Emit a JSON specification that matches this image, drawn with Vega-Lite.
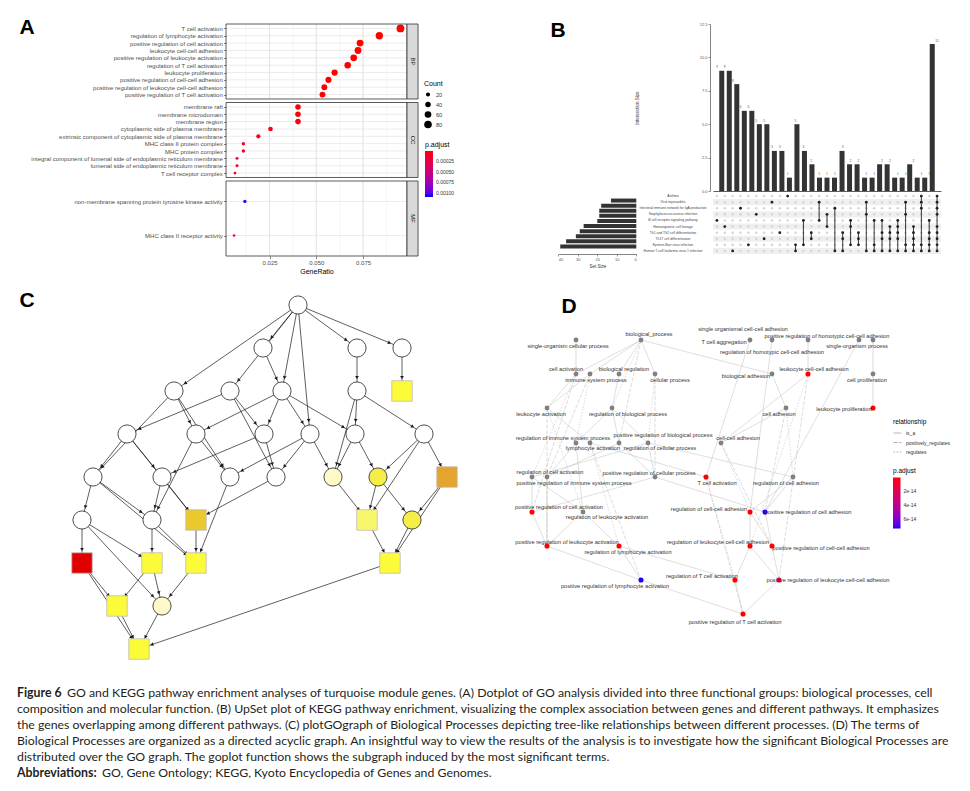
{
"$schema":"https://vega.github.io/schema/vega-lite/v6.json",
"width":970,"height":791,"padding":0,"autosize":{"type":"none"},"background":"#ffffff",
"config":{"view":{"stroke":null},"font":"Liberation Sans","legend":{"titleFontWeight":"normal","titleColor":"#000000","labelColor":"#333333","titleFont":"Liberation Sans","labelFont":"Liberation Sans"}},
"datasets":{
"goA":[
{"ont":"BP","term":"T cell activation","ratio":0.095,"count":83,"p":0.000001},
{"ont":"BP","term":"regulation of lymphocyte activation","ratio":0.0837,"count":73,"p":0.000001},
{"ont":"BP","term":"positive regulation of cell activation","ratio":0.0734,"count":64,"p":0.000001},
{"ont":"BP","term":"leukocyte cell-cell adhesion","ratio":0.0723,"count":63,"p":0.000001},
{"ont":"BP","term":"positive regulation of leukocyte activation","ratio":0.07,"count":61,"p":0.000001},
{"ont":"BP","term":"regulation of T cell activation","ratio":0.0668,"count":58,"p":0.000001},
{"ont":"BP","term":"leukocyte proliferation","ratio":0.0598,"count":52,"p":0.000001},
{"ont":"BP","term":"positive regulation of cell-cell adhesion","ratio":0.0565,"count":49,"p":0.000001},
{"ont":"BP","term":"positive regulation of leukocyte cell-cell adhesion","ratio":0.0543,"count":47,"p":0.000001},
{"ont":"BP","term":"positive regulation of T cell activation","ratio":0.0533,"count":46,"p":0.000001},
{"ont":"CC","term":"membrane raft","ratio":0.0402,"count":40,"p":0.00002},
{"ont":"CC","term":"membrane microdomain","ratio":0.0402,"count":40,"p":0.00002},
{"ont":"CC","term":"membrane region","ratio":0.0402,"count":40,"p":0.00002},
{"ont":"CC","term":"cytoplasmic side of plasma membrane","ratio":0.0255,"count":27,"p":0.00005},
{"ont":"CC","term":"extrinsic component of cytoplasmic side of plasma membrane","ratio":0.019,"count":21,"p":0.00006},
{"ont":"CC","term":"MHC class II protein complex","ratio":0.011,"count":12,"p":0.00004},
{"ont":"CC","term":"MHC protein complex","ratio":0.011,"count":12,"p":0.00008},
{"ont":"CC","term":"integral component of lumenal side of endoplasmic reticulum membrane","ratio":0.0076,"count":8,"p":0.00012},
{"ont":"CC","term":"lumenal side of endoplasmic reticulum membrane","ratio":0.0076,"count":8,"p":0.00012},
{"ont":"CC","term":"T cell receptor complex","ratio":0.0065,"count":7,"p":0.00015},
{"ont":"MF","term":"non-membrane spanning protein tyrosine kinase activity","ratio":0.0118,"count":11,"p":0.00107},
{"ont":"MF","term":"MHC class II receptor activity","ratio":0.006,"count":5,"p":0.00018}
],
"facetsA":[
{"f":"BP","maj":[0.025,0.05,0.075],"mn":[0.0125,0.0375,0.0625,0.0875]},
{"f":"CC","maj":[0.025,0.05,0.075],"mn":[0.0125,0.0375,0.0625,0.0875]},
{"f":"MF","maj":[0.025,0.05,0.075],"mn":[0.0125,0.0375,0.0625,0.0875]}
],
"upCols":[
{"c":1,"n":9,"m":[0,0,0,0,1,0,0,0,0,0]},
{"c":2,"n":9,"m":[0,0,0,0,0,1,0,0,0,0]},
{"c":3,"n":8,"m":[0,0,0,0,0,0,0,0,0,1]},
{"c":4,"n":6,"m":[0,0,1,0,0,0,0,0,0,0]},
{"c":5,"n":6,"m":[0,0,0,0,0,0,0,0,1,0]},
{"c":6,"n":5,"m":[0,0,0,1,0,0,0,0,0,0]},
{"c":7,"n":5,"m":[0,0,0,0,0,0,0,1,0,0]},
{"c":8,"n":3,"m":[0,1,0,0,0,0,0,0,0,0]},
{"c":9,"n":3,"m":[0,0,0,0,0,0,1,0,0,0]},
{"c":10,"n":1,"m":[1,0,0,0,0,0,0,0,0,0]},
{"c":11,"n":5,"m":[0,0,0,0,0,0,0,0,1,1]},
{"c":12,"n":3,"m":[0,0,0,0,1,0,0,0,1,0]},
{"c":13,"n":2,"m":[0,0,0,0,0,0,1,1,0,0]},
{"c":14,"n":1,"m":[0,1,0,0,1,0,0,0,0,0]},
{"c":15,"n":1,"m":[0,0,0,1,0,1,0,0,0,0]},
{"c":16,"n":1,"m":[0,0,1,0,0,0,0,0,0,1]},
{"c":17,"n":3,"m":[0,0,0,0,0,0,1,1,0,1]},
{"c":18,"n":2,"m":[0,0,0,0,1,1,0,0,1,0]},
{"c":19,"n":2,"m":[0,0,0,0,0,0,1,1,1,0]},
{"c":20,"n":1,"m":[0,1,0,1,0,0,0,0,0,1]},
{"c":21,"n":1,"m":[0,0,0,0,1,0,0,0,1,1]},
{"c":22,"n":2,"m":[0,0,0,0,1,0,1,1,0,1]},
{"c":23,"n":2,"m":[0,0,0,0,0,1,1,1,0,1]},
{"c":24,"n":1,"m":[0,0,0,0,1,1,1,1,0,1]},
{"c":25,"n":1,"m":[0,1,0,1,0,0,0,0,1,1]},
{"c":26,"n":2,"m":[0,0,0,0,0,1,1,1,1,1]},
{"c":27,"n":1,"m":[1,1,1,0,0,0,0,0,1,1]},
{"c":28,"n":1,"m":[0,0,0,0,1,0,1,1,1,1]},
{"c":29,"n":11,"m":[1,1,1,1,0,1,1,1,1,1]}
],
"upSets":[
{"idx":1,"name":"Asthma","size":13},
{"idx":2,"name":"Viral myocarditis","size":18},
{"idx":3,"name":"Intestinal immune network for IgA production","size":19},
{"idx":4,"name":"Staphylococcus aureus infection","size":19},
{"idx":5,"name":"B cell receptor signaling pathway","size":20},
{"idx":6,"name":"Hematopoietic cell lineage","size":27},
{"idx":7,"name":"Th1 and Th2 cell differentiation","size":29},
{"idx":8,"name":"Th17 cell differentiation","size":31},
{"idx":9,"name":"Epstein-Barr virus infection","size":36},
{"idx":10,"name":"Human T-cell leukemia virus 1 infection","size":39}
],
"nodesC":[
{"id":0,"x":23.8,"lv":0,"shape":"circle","cat":"w"},
{"id":1,"x":20.3,"lv":1,"shape":"circle","cat":"w"},
{"id":2,"x":29.7,"lv":1,"shape":"circle","cat":"w"},
{"id":3,"x":34.2,"lv":1,"shape":"circle","cat":"w"},
{"id":4,"x":11.4,"lv":2,"shape":"circle","cat":"w"},
{"id":5,"x":17.0,"lv":2,"shape":"circle","cat":"w"},
{"id":6,"x":22.2,"lv":2,"shape":"circle","cat":"w"},
{"id":7,"x":29.7,"lv":2,"shape":"circle","cat":"w"},
{"id":8,"x":34.2,"lv":2,"shape":"square","cat":"y"},
{"id":9,"x":6.7,"lv":3,"shape":"circle","cat":"w"},
{"id":10,"x":13.6,"lv":3,"shape":"circle","cat":"w"},
{"id":11,"x":20.4,"lv":3,"shape":"circle","cat":"w"},
{"id":12,"x":25.0,"lv":3,"shape":"circle","cat":"w"},
{"id":13,"x":29.5,"lv":3,"shape":"circle","cat":"w"},
{"id":14,"x":36.4,"lv":3,"shape":"circle","cat":"w"},
{"id":15,"x":3.3,"lv":4,"shape":"circle","cat":"w"},
{"id":16,"x":10.2,"lv":4,"shape":"circle","cat":"w"},
{"id":17,"x":17.0,"lv":4,"shape":"circle","cat":"w"},
{"id":18,"x":21.6,"lv":4,"shape":"circle","cat":"w"},
{"id":19,"x":27.3,"lv":4,"shape":"circle","cat":"p"},
{"id":20,"x":31.8,"lv":4,"shape":"circle","cat":"yc"},
{"id":21,"x":38.7,"lv":4,"shape":"square","cat":"o"},
{"id":22,"x":2.2,"lv":5,"shape":"circle","cat":"w"},
{"id":23,"x":9.2,"lv":5,"shape":"circle","cat":"w"},
{"id":24,"x":13.6,"lv":5,"shape":"square","cat":"g"},
{"id":25,"x":30.7,"lv":5,"shape":"square","cat":"ly"},
{"id":26,"x":35.2,"lv":5,"shape":"circle","cat":"yc"},
{"id":27,"x":2.2,"lv":6,"shape":"square","cat":"r"},
{"id":28,"x":9.2,"lv":6,"shape":"square","cat":"y"},
{"id":29,"x":13.6,"lv":6,"shape":"square","cat":"y"},
{"id":30,"x":33.0,"lv":6,"shape":"square","cat":"y"},
{"id":31,"x":5.7,"lv":7,"shape":"square","cat":"y"},
{"id":32,"x":10.2,"lv":7,"shape":"circle","cat":"p"},
{"id":33,"x":7.9,"lv":8,"shape":"square","cat":"y"}
],
"edgesC":[
{"s":0,"t":4},{"s":0,"t":5},{"s":0,"t":1},{"s":0,"t":6},{"s":0,"t":12},{"s":0,"t":2},{"s":0,"t":3},
{"s":1,"t":6},{"s":2,"t":7},{"s":3,"t":8},
{"s":4,"t":15},{"s":4,"t":10},{"s":4,"t":17},
{"s":5,"t":9},{"s":5,"t":11},{"s":5,"t":18},
{"s":6,"t":10},{"s":6,"t":11},{"s":6,"t":12},{"s":6,"t":13},
{"s":7,"t":13},{"s":7,"t":14},{"s":7,"t":19},
{"s":9,"t":15},{"s":9,"t":16},{"s":9,"t":24},
{"s":10,"t":23},{"s":10,"t":17},
{"s":11,"t":16},{"s":11,"t":18},
{"s":12,"t":17},{"s":12,"t":18},{"s":12,"t":19},
{"s":13,"t":19},{"s":13,"t":20},
{"s":14,"t":20},{"s":14,"t":21},{"s":14,"t":25},
{"s":15,"t":22},{"s":15,"t":23},{"s":15,"t":29},
{"s":16,"t":23},{"s":16,"t":24},
{"s":17,"t":29},{"s":18,"t":24},{"s":19,"t":25},
{"s":20,"t":25},{"s":20,"t":26},
{"s":21,"t":26},{"s":21,"t":30},
{"s":22,"t":27},{"s":22,"t":28},{"s":22,"t":32},
{"s":23,"t":28},{"s":23,"t":29},{"s":24,"t":29},
{"s":25,"t":30},{"s":26,"t":30},
{"s":27,"t":31},{"s":27,"t":33},
{"s":28,"t":31},{"s":28,"t":32},{"s":29,"t":32},
{"s":31,"t":33},{"s":32,"t":33},{"s":30,"t":33}
],
"nodesD":[
{"id":1,"term":"biological_process","x":12.1,"y":1.0,"lx":12.9,"ly":0.4,"p":null},
{"id":2,"term":"single-organism cellular process","x":5.6,"y":1.0,"lx":4.8,"ly":1.6,"p":null},
{"id":3,"term":"T cell aggregation","x":23.0,"y":1.0,"lx":20.4,"ly":1.2,"p":null},
{"id":4,"term":"single organismal cell-cell adhesion","x":25.2,"y":1.0,"lx":22.3,"ly":-0.1,"p":null},
{"id":5,"term":"positive regulation of homotypic cell-cell adhesion","x":28.8,"y":1.0,"lx":30.7,"ly":0.6,"p":null},
{"id":6,"term":"regulation of homotypic cell-cell adhesion","x":33.9,"y":1.0,"lx":25.2,"ly":2.2,"p":null},
{"id":7,"term":"single-organism process","x":35.3,"y":1.0,"lx":33.7,"ly":1.6,"p":null},
{"id":8,"term":"cell activation","x":5.6,"y":4.4,"lx":4.6,"ly":3.9,"p":null},
{"id":9,"term":"immune system process","x":7.0,"y":4.4,"lx":7.6,"ly":5.0,"p":null},
{"id":10,"term":"biological regulation","x":9.9,"y":4.4,"lx":10.4,"ly":3.9,"p":null},
{"id":11,"term":"cellular process","x":13.5,"y":4.4,"lx":15.0,"ly":5.0,"p":null},
{"id":12,"term":"biological adhesion","x":25.2,"y":4.4,"lx":22.6,"ly":4.6,"p":null},
{"id":13,"term":"leukocyte cell-cell adhesion","x":28.8,"y":4.4,"lx":29.4,"ly":3.9,"p":1e-16},
{"id":14,"term":"cell proliferation","x":35.3,"y":4.4,"lx":34.7,"ly":5.0,"p":null},
{"id":15,"term":"leukocyte activation","x":2.7,"y":7.8,"lx":2.1,"ly":8.4,"p":null},
{"id":16,"term":"regulation of biological process","x":9.2,"y":7.8,"lx":10.8,"ly":8.4,"p":null},
{"id":17,"term":"cell adhesion","x":26.6,"y":7.8,"lx":25.9,"ly":8.4,"p":null},
{"id":18,"term":"leukocyte proliferation","x":35.3,"y":7.8,"lx":32.4,"ly":7.9,"p":1e-16},
{"id":19,"term":"regulation of immune system process","x":5.6,"y":11.3,"lx":4.3,"ly":10.8,"p":null},
{"id":20,"term":"lymphocyte activation","x":7.0,"y":11.3,"lx":7.3,"ly":11.8,"p":null},
{"id":21,"term":"positive regulation of biological process","x":9.9,"y":11.3,"lx":14.3,"ly":10.5,"p":null},
{"id":22,"term":"regulation of cellular process","x":12.8,"y":11.3,"lx":14.0,"ly":11.8,"p":null},
{"id":23,"term":"cell-cell adhesion","x":20.1,"y":11.3,"lx":21.8,"ly":10.8,"p":null},
{"id":24,"term":"regulation of cell activation","x":1.2,"y":14.7,"lx":3.0,"ly":14.2,"p":null},
{"id":25,"term":"positive regulation of immune system process","x":2.7,"y":14.7,"lx":5.4,"ly":15.3,"p":null},
{"id":26,"term":"positive regulation of cellular process","x":13.5,"y":14.7,"lx":12.9,"ly":14.3,"p":null},
{"id":27,"term":"T cell activation","x":18.6,"y":14.7,"lx":19.7,"ly":15.3,"p":1e-16},
{"id":28,"term":"regulation of cell adhesion","x":27.3,"y":14.7,"lx":26.6,"ly":15.3,"p":null},
{"id":29,"term":"positive regulation of cell activation","x":1.2,"y":18.2,"lx":3.9,"ly":17.7,"p":1e-16},
{"id":30,"term":"regulation of leukocyte activation","x":6.3,"y":18.2,"lx":8.7,"ly":18.7,"p":null},
{"id":31,"term":"regulation of cell-cell adhesion","x":23.0,"y":18.2,"lx":18.9,"ly":17.9,"p":1e-16},
{"id":32,"term":"positive regulation of cell adhesion","x":24.5,"y":18.2,"lx":28.8,"ly":18.2,"p":7.2e-14},
{"id":33,"term":"positive regulation of leukocyte activation","x":2.7,"y":21.6,"lx":4.7,"ly":21.2,"p":1e-16},
{"id":34,"term":"regulation of lymphocyte activation","x":9.9,"y":21.6,"lx":10.8,"ly":22.2,"p":1e-16},
{"id":35,"term":"regulation of leukocyte cell-cell adhesion","x":23.0,"y":21.6,"lx":19.8,"ly":21.2,"p":1e-16},
{"id":36,"term":"positive regulation of cell-cell adhesion","x":25.2,"y":21.6,"lx":30.1,"ly":21.8,"p":1e-16},
{"id":37,"term":"positive regulation of lymphocyte activation","x":12.1,"y":25.0,"lx":9.5,"ly":25.6,"p":7.2e-14},
{"id":38,"term":"regulation of T cell activation","x":21.5,"y":25.0,"lx":18.2,"ly":24.6,"p":1e-16},
{"id":39,"term":"positive regulation of leukocyte cell-cell adhesion","x":25.9,"y":25.0,"lx":30.8,"ly":25.0,"p":1.2e-14},
{"id":40,"term":"positive regulation of T cell activation","x":22.3,"y":28.4,"lx":21.5,"ly":29.2,"p":1e-16}
],
"edgesD":[
{"s":2,"t":8,"rel":"is_a"},{"s":1,"t":8,"rel":"is_a"},{"s":1,"t":9,"rel":"is_a"},{"s":1,"t":10,"rel":"is_a"},{"s":1,"t":11,"rel":"is_a"},{"s":1,"t":12,"rel":"is_a"},
{"s":3,"t":27,"rel":"is_a"},{"s":4,"t":31,"rel":"is_a"},{"s":5,"t":13,"rel":"is_a"},{"s":6,"t":32,"rel":"is_a"},{"s":7,"t":14,"rel":"is_a"},{"s":14,"t":18,"rel":"is_a"},
{"s":12,"t":17,"rel":"is_a"},{"s":17,"t":23,"rel":"is_a"},{"s":17,"t":28,"rel":"regulates"},{"s":17,"t":32,"rel":"positively_regulates"},
{"s":23,"t":13,"rel":"is_a"},{"s":23,"t":31,"rel":"regulates"},{"s":23,"t":36,"rel":"positively_regulates"},
{"s":13,"t":35,"rel":"regulates"},{"s":13,"t":39,"rel":"positively_regulates"},
{"s":8,"t":15,"rel":"is_a"},{"s":8,"t":24,"rel":"regulates"},{"s":8,"t":29,"rel":"positively_regulates"},
{"s":9,"t":15,"rel":"is_a"},{"s":9,"t":19,"rel":"regulates"},{"s":9,"t":25,"rel":"positively_regulates"},
{"s":10,"t":16,"rel":"is_a"},{"s":1,"t":16,"rel":"regulates"},{"s":1,"t":21,"rel":"positively_regulates"},
{"s":11,"t":22,"rel":"regulates"},{"s":11,"t":26,"rel":"positively_regulates"},
{"s":16,"t":19,"rel":"is_a"},{"s":16,"t":21,"rel":"is_a"},{"s":16,"t":22,"rel":"is_a"},
{"s":15,"t":20,"rel":"is_a"},{"s":15,"t":30,"rel":"regulates"},{"s":15,"t":33,"rel":"positively_regulates"},
{"s":19,"t":25,"rel":"is_a"},{"s":19,"t":30,"rel":"is_a"},
{"s":21,"t":25,"rel":"is_a"},{"s":21,"t":26,"rel":"is_a"},
{"s":22,"t":24,"rel":"is_a"},{"s":22,"t":26,"rel":"is_a"},{"s":22,"t":28,"rel":"is_a"},
{"s":20,"t":27,"rel":"is_a"},{"s":20,"t":34,"rel":"regulates"},{"s":20,"t":37,"rel":"positively_regulates"},
{"s":24,"t":29,"rel":"is_a"},{"s":24,"t":30,"rel":"is_a"},
{"s":25,"t":33,"rel":"is_a"},
{"s":26,"t":29,"rel":"is_a"},{"s":26,"t":32,"rel":"is_a"},
{"s":27,"t":38,"rel":"regulates"},{"s":27,"t":40,"rel":"positively_regulates"},
{"s":28,"t":31,"rel":"is_a"},{"s":28,"t":32,"rel":"is_a"},
{"s":29,"t":33,"rel":"is_a"},
{"s":30,"t":33,"rel":"is_a"},{"s":30,"t":34,"rel":"is_a"},
{"s":31,"t":35,"rel":"is_a"},{"s":31,"t":36,"rel":"is_a"},
{"s":32,"t":36,"rel":"is_a"},
{"s":33,"t":37,"rel":"is_a"},
{"s":34,"t":37,"rel":"is_a"},{"s":34,"t":38,"rel":"is_a"},
{"s":35,"t":38,"rel":"is_a"},{"s":35,"t":39,"rel":"is_a"},
{"s":36,"t":39,"rel":"is_a"},
{"s":37,"t":40,"rel":"is_a"},{"s":38,"t":40,"rel":"is_a"},{"s":39,"t":40,"rel":"is_a"}
]
},
"resolve":{"scale":{"x":"independent","y":"independent","color":"independent","fill":"independent","size":"independent","strokeDash":"independent","angle":"independent"},"axis":{"x":"independent","y":"independent"},"legend":{"color":"independent","size":"independent","strokeDash":"independent","fill":"independent"}},
"layer":[
{"data":{"name":"facetsA"},"transform":[{"flatten":["mn"]}],
 "mark":{"type":"rect","filled":false,"color":"#f2f2f2","strokeWidth":0.5},
 "encoding":{
  "x":{"field":"mn","type":"quantitative","scale":{"domain":[0.0017,0.0985],"range":[226,407],"nice":false,"zero":false},
   "axis":{"orient":"bottom","offset":-535,"values":[0.025,0.05,0.075],"format":".3f","grid":false,"domain":false,"ticks":true,"tickSize":2.5,"tickColor":"#333333","tickWidth":0.6,"labelFontSize":6,"labelColor":"#4d4d4d","labelPadding":1,"title":"GeneRatio","titleFontSize":7,"titleFontWeight":"normal","titleColor":"#000000","titlePadding":2}},
  "x2":{"field":"mn"},
  "y":{"field":"f","type":"nominal","scale":{"type":"band","domain":["BP","CC","MF"],"range":[24,256],"paddingInner":0.0446,"paddingOuter":0},"axis":null}}},
{"data":{"name":"facetsA"},"transform":[{"flatten":["maj"]}],
 "mark":{"type":"rect","filled":false,"color":"#e6e6e6","strokeWidth":0.8},
 "encoding":{
  "x":{"field":"maj","type":"quantitative","scale":{"domain":[0.0017,0.0985],"range":[226,407],"nice":false,"zero":false},"axis":null},
  "x2":{"field":"maj"},
  "y":{"field":"f","type":"nominal","scale":{"type":"band","domain":["BP","CC","MF"],"range":[24,256],"paddingInner":0.0446,"paddingOuter":0},"axis":null}}},
{"data":{"name":"goA"},"transform":[{"filter":"datum.ont=='BP'"}],
 "mark":{"type":"rule","color":"#e6e6e6","strokeWidth":0.8},
 "encoding":{
  "y":{"field":"term","type":"nominal","sort":null,"scale":{"type":"point","range":[24,99],"padding":0.6},"axis":null},
  "x":{"datum":0.0017,"type":"quantitative","scale":{"domain":[0.0017,0.0985],"range":[226,407],"nice":false,"zero":false},"axis":null},
  "x2":{"datum":0.0985}}},
{"data":{"name":"goA"},"transform":[{"filter":"datum.ont=='CC'"}],
 "mark":{"type":"rule","color":"#e6e6e6","strokeWidth":0.8},
 "encoding":{
  "y":{"field":"term","type":"nominal","sort":null,"scale":{"type":"point","range":[102.5,177.5],"padding":0.6},"axis":null},
  "x":{"datum":0.0017,"type":"quantitative","scale":{"domain":[0.0017,0.0985],"range":[226,407],"nice":false,"zero":false},"axis":null},
  "x2":{"datum":0.0985}}},
{"data":{"name":"goA"},"transform":[{"filter":"datum.ont=='MF'"}],
 "mark":{"type":"rule","color":"#e6e6e6","strokeWidth":0.8},
 "encoding":{
  "y":{"field":"term","type":"nominal","sort":null,"scale":{"type":"point","range":[181,256],"padding":0.6},"axis":null},
  "x":{"datum":0.0017,"type":"quantitative","scale":{"domain":[0.0017,0.0985],"range":[226,407],"nice":false,"zero":false},"axis":null},
  "x2":{"datum":0.0985}}},
{"data":{"name":"goA"},"transform":[{"filter":"datum.ont=='BP'"},{"calculate":"-datum.p","as":"np"}],
 "mark":{"type":"point","filled":true,"opacity":1,"shape":"circle"},
 "encoding":{
  "x":{"field":"ratio","type":"quantitative","scale":{"domain":[0.0017,0.0985],"range":[226,407],"nice":false,"zero":false},"axis":null},
  "y":{"field":"term","type":"nominal","sort":null,"scale":{"type":"point","range":[24,99],"padding":0.6},
   "axis":{"orient":"left","offset":-226,"title":null,"domain":false,"grid":false,"ticks":true,"tickSize":2.5,"tickColor":"#333333","tickWidth":0.6,"labelFontSize":6,"labelColor":"#4d4d4d","labelPadding":1.2,"labelLimit":400}},
  "size":{"field":"count","type":"quantitative","scale":{"domain":[20,80],"range":[17,58],"zero":false},
   "legend":{"title":"Count","orient":"none","legendX":424,"legendY":80,"values":[20,40,60,80],"symbolFillColor":"#000000","symbolStrokeColor":"#000000","symbolStrokeWidth":0,"symbolType":"circle","titleFontSize":7,"labelFontSize":5.5,"clipHeight":9,"rowPadding":1,"titlePadding":3}},
  "color":{"field":"np","type":"quantitative","scale":{"domain":[-0.0011,0],"range":["#0000ff","#ff0000"],"interpolate":"lab"},
   "legend":{"title":"p.adjust","orient":"none","legendX":425,"legendY":141,"gradientLength":46,"gradientThickness":8,"values":[-0.00025,-0.0005,-0.00075,-0.001],"labelExpr":"format(-datum.value, '.5f')","titleFontSize":7,"labelFontSize":5,"direction":"vertical","gradientStrokeWidth":0,"labelOffset":3,"titlePadding":3}}}},
{"data":{"name":"goA"},"transform":[{"filter":"datum.ont=='CC'"},{"calculate":"-datum.p","as":"np"}],
 "mark":{"type":"point","filled":true,"opacity":1,"shape":"circle"},
 "encoding":{
  "x":{"field":"ratio","type":"quantitative","scale":{"domain":[0.0017,0.0985],"range":[226,407],"nice":false,"zero":false},"axis":null},
  "y":{"field":"term","type":"nominal","sort":null,"scale":{"type":"point","range":[102.5,177.5],"padding":0.6},
   "axis":{"orient":"left","offset":-226,"title":null,"domain":false,"grid":false,"ticks":true,"tickSize":2.5,"tickColor":"#333333","tickWidth":0.6,"labelFontSize":6,"labelColor":"#4d4d4d","labelPadding":1.2,"labelLimit":400}},
  "size":{"field":"count","type":"quantitative","scale":{"domain":[20,80],"range":[17,58],"zero":false},"legend":null},
  "color":{"field":"np","type":"quantitative","scale":{"domain":[-0.0011,0],"range":["#0000ff","#ff0000"],"interpolate":"lab"},"legend":null}}},
{"data":{"name":"goA"},"transform":[{"filter":"datum.ont=='MF'"},{"calculate":"-datum.p","as":"np"}],
 "mark":{"type":"point","filled":true,"opacity":1,"shape":"circle"},
 "encoding":{
  "x":{"field":"ratio","type":"quantitative","scale":{"domain":[0.0017,0.0985],"range":[226,407],"nice":false,"zero":false},"axis":null},
  "y":{"field":"term","type":"nominal","sort":null,"scale":{"type":"point","range":[181,256],"padding":0.6},
   "axis":{"orient":"left","offset":-226,"title":null,"domain":false,"grid":false,"ticks":true,"tickSize":2.5,"tickColor":"#333333","tickWidth":0.6,"labelFontSize":6,"labelColor":"#4d4d4d","labelPadding":1.2,"labelLimit":400}},
  "size":{"field":"count","type":"quantitative","scale":{"domain":[20,80],"range":[17,58],"zero":false},"legend":null},
  "color":{"field":"np","type":"quantitative","scale":{"domain":[-0.0011,0],"range":["#0000ff","#ff0000"],"interpolate":"lab"},"legend":null}}},
{"data":{"name":"facetsA"},
 "mark":{"type":"rect","filled":false,"color":"#333333","strokeWidth":0.8},
 "encoding":{
  "x":{"datum":0.0017,"type":"quantitative","scale":{"domain":[0.0017,0.0985],"range":[226,407],"nice":false,"zero":false},"axis":null},
  "x2":{"datum":0.0985},
  "y":{"field":"f","type":"nominal","scale":{"type":"band","domain":["BP","CC","MF"],"range":[24,256],"paddingInner":0.0446,"paddingOuter":0},"axis":null}}},
{"data":{"name":"facetsA"},
 "mark":{"type":"rect","fill":"#d9d9d9","stroke":"#333333","strokeWidth":0.8},
 "encoding":{
  "x":{"datum":0.0985,"type":"quantitative","scale":{"domain":[0.0017,0.0985],"range":[226,407],"nice":false,"zero":false},"axis":null},
  "x2":{"datum":0.1044},
  "y":{"field":"f","type":"nominal","scale":{"type":"band","domain":["BP","CC","MF"],"range":[24,256],"paddingInner":0.0446,"paddingOuter":0},"axis":null}}},
{"data":{"name":"facetsA"},
 "mark":{"type":"text","angle":90,"fontSize":6,"color":"#1a1a1a","align":"center","baseline":"middle"},
 "encoding":{
  "x":{"datum":0.10145,"type":"quantitative","scale":{"domain":[0.0017,0.0985],"range":[226,407],"nice":false,"zero":false},"axis":null},
  "y":{"field":"f","type":"nominal","scale":{"type":"band","domain":["BP","CC","MF"],"range":[24,256],"paddingInner":0.0446,"paddingOuter":0},"axis":null},
  "text":{"field":"f"}}},
{"data":{"values":[{"t":"A"}]},
 "mark":{"type":"text","fontSize":21,"fontWeight":"bold","color":"#000000","align":"center","baseline":"alphabetic","dy":-27.5},
 "encoding":{
  "x":{"datum":-0.1047,"type":"quantitative","scale":{"domain":[0.0017,0.0985],"range":[226,407],"nice":false,"zero":false},"axis":null},
  "y":{"datum":"BP","type":"nominal","scale":{"type":"band","domain":["BP","CC","MF"],"range":[24,256],"paddingInner":0.0446,"paddingOuter":0},"axis":null},
  "text":{"field":"t"}}},

{"data":{"name":"upCols"},
 "mark":{"type":"bar","width":5,"color":"#333333","orient":"vertical"},
 "encoding":{
  "x":{"field":"c","type":"quantitative","scale":{"domain":[0.5,29.5],"range":[713,941],"nice":false,"zero":false},
   "axis":{"orient":"bottom","offset":-600,"labels":false,"ticks":false,"grid":false,"domain":true,"domainColor":"#333333","domainWidth":0.8,"title":null}},
  "y":{"field":"n","type":"quantitative","scale":{"domain":[0,12.5],"range":[191,24],"nice":false,"zero":true},
   "axis":{"orient":"left","offset":-710,"values":[0,2.5,5,7.5,10,12.5],"format":".1f","grid":false,"tickSize":2,"tickColor":"#333333","tickWidth":0.5,"domainColor":"#333333","domainWidth":0.6,"labelFontSize":4,"labelColor":"#555555","labelPadding":1,"title":"Intersection Size","titleFontSize":4.5,"titleFontWeight":"normal","titleColor":"#333333","titlePadding":60}}}},
{"data":{"name":"upCols"},
 "mark":{"type":"text","fontSize":3.5,"color":"#666666","baseline":"bottom","dy":-1.5},
 "encoding":{
  "x":{"field":"c","type":"quantitative","scale":{"domain":[0.5,29.5],"range":[713,941],"nice":false,"zero":false},"axis":null},
  "y":{"field":"n","type":"quantitative","scale":{"domain":[0,12.5],"range":[191,24],"nice":false,"zero":true},"axis":null},
  "text":{"field":"n"}}},
{"data":{"values":[{"t":"B"}]},
 "mark":{"type":"text","fontSize":21,"fontWeight":"bold","color":"#000000","align":"center","baseline":"alphabetic"},
 "encoding":{
  "x":{"datum":-19.21,"type":"quantitative","scale":{"domain":[0.5,29.5],"range":[713,941],"nice":false,"zero":false},"axis":null},
  "y":{"datum":11.53,"type":"quantitative","scale":{"domain":[0,12.5],"range":[191,24],"nice":false,"zero":true},"axis":null},
  "text":{"field":"t"}}},
{"data":{"name":"upSets"},"transform":[{"filter":"datum.idx % 2 == 0"},{"calculate":"datum.idx - 0.5","as":"y0"},{"calculate":"datum.idx + 0.5","as":"y1"}],
 "mark":{"type":"rect","color":"#efefef"},
 "encoding":{
  "x":{"datum":0.5,"type":"quantitative","scale":{"domain":[0.5,29.5],"range":[713,941],"nice":false,"zero":false},"axis":null},
  "x2":{"datum":29.5},
  "y":{"field":"y0","type":"quantitative","scale":{"domain":[0.5,10.5],"range":[193,254],"nice":false,"zero":false},"axis":null},
  "y2":{"field":"y1"}}},
{"data":{"name":"upCols"},"transform":[{"flatten":["m"]},{"window":[{"op":"row_number","as":"idx"}],"groupby":["c"]}],
 "mark":{"type":"point","filled":true,"opacity":1,"shape":"circle","size":6.5,"color":"#d6d6d6"},
 "encoding":{
  "x":{"field":"c","type":"quantitative","scale":{"domain":[0.5,29.5],"range":[713,941],"nice":false,"zero":false},"axis":null},
  "y":{"field":"idx","type":"quantitative","scale":{"domain":[0.5,10.5],"range":[193,254],"nice":false,"zero":false},"axis":null}}},
{"data":{"name":"upCols"},"transform":[{"flatten":["m"]},{"window":[{"op":"row_number","as":"idx"}],"groupby":["c"]},{"filter":"datum.m == 1"},{"aggregate":[{"op":"min","field":"idx","as":"lo"},{"op":"max","field":"idx","as":"hi"}],"groupby":["c"]},{"filter":"datum.hi > datum.lo"}],
 "mark":{"type":"rule","color":"#222222","strokeWidth":0.9},
 "encoding":{
  "x":{"field":"c","type":"quantitative","scale":{"domain":[0.5,29.5],"range":[713,941],"nice":false,"zero":false},"axis":null},
  "y":{"field":"lo","type":"quantitative","scale":{"domain":[0.5,10.5],"range":[193,254],"nice":false,"zero":false},"axis":null},
  "y2":{"field":"hi"}}},
{"data":{"name":"upCols"},"transform":[{"flatten":["m"]},{"window":[{"op":"row_number","as":"idx"}],"groupby":["c"]},{"filter":"datum.m == 1"}],
 "mark":{"type":"point","filled":true,"opacity":1,"shape":"circle","size":8,"color":"#222222"},
 "encoding":{
  "x":{"field":"c","type":"quantitative","scale":{"domain":[0.5,29.5],"range":[713,941],"nice":false,"zero":false},"axis":null},
  "y":{"field":"idx","type":"quantitative","scale":{"domain":[0.5,10.5],"range":[193,254],"nice":false,"zero":false},"axis":null}}},
{"data":{"name":"upSets"},
 "mark":{"type":"text","fontSize":3.4,"color":"#444444","align":"center","baseline":"middle"},
 "encoding":{
  "x":{"datum":-4.59,"type":"quantitative","scale":{"domain":[0.5,29.5],"range":[713,941],"nice":false,"zero":false},"axis":null},
  "y":{"field":"idx","type":"quantitative","scale":{"domain":[0.5,10.5],"range":[193,254],"nice":false,"zero":false},"axis":null},
  "text":{"field":"name"}}},
{"data":{"name":"upSets"},
 "mark":{"type":"bar","orient":"horizontal","height":4,"color":"#333333"},
 "encoding":{
  "x":{"field":"size","type":"quantitative","scale":{"domain":[0,40],"range":[636.3,558.3],"nice":false,"zero":true},
   "axis":{"orient":"bottom","offset":-537,"values":[0,10,20,30,40],"grid":false,"tickSize":2,"tickColor":"#333333","tickWidth":0.5,"domainColor":"#333333","domainWidth":0.6,"labelFontSize":4,"labelColor":"#555555","labelPadding":1,"title":"Set Size","titleFontSize":4.5,"titleFontWeight":"normal","titleColor":"#333333","titlePadding":2}},
  "y":{"field":"idx","type":"quantitative","scale":{"domain":[0.5,10.5],"range":[193,254],"nice":false,"zero":false},"axis":null}}},

{"data":{"name":"edgesC"},"transform":[
  {"lookup":"s","from":{"data":{"name":"nodesC"},"key":"id","fields":["x","lv"]},"as":["sx","sl"]},
  {"lookup":"t","from":{"data":{"name":"nodesC"},"key":"id","fields":["x","lv"]},"as":["tx","tl"]}],
 "mark":{"type":"rule","color":"#1a1a1a","strokeWidth":0.7},
 "encoding":{
  "x":{"field":"sx","type":"quantitative","scale":{"domain":[0,40],"range":[60,460],"nice":false,"zero":false},"axis":null},
  "y":{"field":"sl","type":"quantitative","scale":{"domain":[0,8],"range":[305,649],"nice":false,"zero":false},"axis":null},
  "x2":{"field":"tx"},"y2":{"field":"tl"}}},
{"data":{"name":"edgesC"},"transform":[
  {"lookup":"s","from":{"data":{"name":"nodesC"},"key":"id","fields":["x","lv"]},"as":["sx","sl"]},
  {"lookup":"t","from":{"data":{"name":"nodesC"},"key":"id","fields":["x","lv"]},"as":["tx","tl"]},
  {"calculate":"(datum.tx - datum.sx) * 10","as":"ddx"},
  {"calculate":"(datum.tl - datum.sl) * 43","as":"ddy"},
  {"calculate":"sqrt(datum.ddx * datum.ddx + datum.ddy * datum.ddy)","as":"len"},
  {"calculate":"datum.tx - datum.ddx / datum.len * 1.35","as":"ax"},
  {"calculate":"datum.tl - datum.ddy / datum.len * 13.5 / 43","as":"al"},
  {"calculate":"atan2(datum.ddy, datum.ddx) * 180 / PI","as":"ang"}],
 "mark":{"type":"point","filled":true,"opacity":1,"shape":"triangle-right","size":14,"color":"#1a1a1a"},
 "encoding":{
  "x":{"field":"ax","type":"quantitative","scale":{"domain":[0,40],"range":[60,460],"nice":false,"zero":false},"axis":null},
  "y":{"field":"al","type":"quantitative","scale":{"domain":[0,8],"range":[305,649],"nice":false,"zero":false},"axis":null},
  "angle":{"field":"ang","type":"quantitative","scale":null}}},
{"data":{"name":"nodesC"},"transform":[{"filter":"datum.shape == 'circle'"}],
 "mark":{"type":"point","filled":true,"opacity":1,"shape":"circle","size":330,"stroke":"#222222","strokeWidth":0.8},
 "encoding":{
  "x":{"field":"x","type":"quantitative","scale":{"domain":[0,40],"range":[60,460],"nice":false,"zero":false},"axis":null},
  "y":{"field":"lv","type":"quantitative","scale":{"domain":[0,8],"range":[305,649],"nice":false,"zero":false},"axis":null},
  "fill":{"field":"cat","type":"nominal","scale":{"domain":["w","p","yc","y","ly","g","o","r"],"range":["#ffffff","#fdf9c8","#f6ee48","#fbfb3a","#f8f76c","#ebc92e","#e5a42d","#e00000"]},"legend":null}}},
{"data":{"name":"nodesC"},"transform":[{"filter":"datum.shape == 'square'"}],
 "mark":{"type":"point","filled":true,"opacity":1,"shape":"square","size":420,"stroke":"#bdbdbd","strokeWidth":0.8},
 "encoding":{
  "x":{"field":"x","type":"quantitative","scale":{"domain":[0,40],"range":[60,460],"nice":false,"zero":false},"axis":null},
  "y":{"field":"lv","type":"quantitative","scale":{"domain":[0,8],"range":[305,649],"nice":false,"zero":false},"axis":null},
  "fill":{"field":"cat","type":"nominal","scale":{"domain":["w","p","yc","y","ly","g","o","r"],"range":["#ffffff","#fdf9c8","#f6ee48","#fbfb3a","#f8f76c","#ebc92e","#e5a42d","#e00000"]},"legend":null}}},
{"data":{"values":[{"t":"C"}]},
 "mark":{"type":"text","fontSize":21,"fontWeight":"bold","color":"#000000","align":"center","baseline":"alphabetic"},
 "encoding":{
  "x":{"datum":-3.3,"type":"quantitative","scale":{"domain":[0,40],"range":[60,460],"nice":false,"zero":false},"axis":null},
  "y":{"datum":0.0465,"type":"quantitative","scale":{"domain":[0,8],"range":[305,649],"nice":false,"zero":false},"axis":null},
  "text":{"field":"t"}}},

{"data":{"name":"edgesD"},"transform":[
  {"lookup":"s","from":{"data":{"name":"nodesD"},"key":"id","fields":["x","y"]},"as":["sx","sy"]},
  {"lookup":"t","from":{"data":{"name":"nodesD"},"key":"id","fields":["x","y"]},"as":["tx","ty"]}],
 "mark":{"type":"rule","color":"#c4c4c4","strokeWidth":0.6},
 "encoding":{
  "x":{"field":"sx","type":"quantitative","scale":{"domain":[0,40],"range":[520,920],"nice":false,"zero":false},"axis":null},
  "y":{"field":"sy","type":"quantitative","scale":{"domain":[0,30],"range":[330,630],"nice":false,"zero":false},"axis":null},
  "x2":{"field":"tx"},"y2":{"field":"ty"},
  "strokeDash":{"field":"rel","type":"nominal","scale":{"domain":["is_a","positively_regulates","regulates"],"range":[[1,0],[4,1.5],[1.5,1.5]]},
   "legend":{"title":"relationship","orient":"none","legendX":893,"legendY":419,"symbolType":"stroke","symbolStrokeColor":"#9a9a9a","symbolStrokeWidth":0.8,"symbolSize":60,"titleFontSize":6.5,"labelFontSize":5,"rowPadding":1.5,"titlePadding":3}}}},
{"data":{"name":"nodesD"},"transform":[{"filter":"datum.p == null"}],
 "mark":{"type":"point","filled":true,"opacity":1,"shape":"circle","size":24,"color":"#808080"},
 "encoding":{
  "x":{"field":"x","type":"quantitative","scale":{"domain":[0,40],"range":[520,920],"nice":false,"zero":false},"axis":null},
  "y":{"field":"y","type":"quantitative","scale":{"domain":[0,30],"range":[330,630],"nice":false,"zero":false},"axis":null}}},
{"data":{"name":"nodesD"},"transform":[{"filter":"datum.p != null"},{"calculate":"-datum.p","as":"np"}],
 "mark":{"type":"point","filled":true,"opacity":1,"shape":"circle","size":26},
 "encoding":{
  "x":{"field":"x","type":"quantitative","scale":{"domain":[0,40],"range":[520,920],"nice":false,"zero":false},"axis":null},
  "y":{"field":"y","type":"quantitative","scale":{"domain":[0,30],"range":[330,630],"nice":false,"zero":false},"axis":null},
  "color":{"field":"np","type":"quantitative","scale":{"domain":[-7.3e-14,0],"range":["#0000ff","#ff0000"],"interpolate":"lab"},
   "legend":{"title":"p.adjust","orient":"none","legendX":893,"legendY":468,"gradientLength":51,"gradientThickness":7.5,"values":[-2e-14,-4e-14,-6e-14],"labelExpr":"format(-datum.value, '.0e')","titleFontSize":6.5,"labelFontSize":5,"direction":"vertical","gradientStrokeWidth":0,"labelOffset":3,"titlePadding":3}}}},
{"data":{"name":"nodesD"},
 "mark":{"type":"text","fontSize":5.7,"color":"#333333","align":"center","baseline":"middle"},
 "encoding":{
  "x":{"field":"lx","type":"quantitative","scale":{"domain":[0,40],"range":[520,920],"nice":false,"zero":false},"axis":null},
  "y":{"field":"ly","type":"quantitative","scale":{"domain":[0,30],"range":[330,630],"nice":false,"zero":false},"axis":null},
  "text":{"field":"term"}}},
{"data":{"values":[{"t":"D"}]},
 "mark":{"type":"text","fontSize":21,"fontWeight":"bold","color":"#000000","align":"center","baseline":"alphabetic"},
 "encoding":{
  "x":{"datum":4.9,"type":"quantitative","scale":{"domain":[0,40],"range":[520,920],"nice":false,"zero":false},"axis":null},
  "y":{"datum":-1.7,"type":"quantitative","scale":{"domain":[0,30],"range":[330,630],"nice":false,"zero":false},"axis":null},
  "text":{"field":"t"}}},

{"data":{"values":[
  {"line":2,"text":"composition and molecular function. (B) UpSet plot of KEGG pathway enrichment, visualizing the complex association between genes and different pathways. It emphasizes"},
  {"line":3,"text":"the genes overlapping among different pathways. (C) plotGOgraph of Biological Processes depicting tree-like relationships between different processes. (D) The terms of"},
  {"line":4,"text":"Biological Processes are organized as a directed acyclic graph. An insightful way to view the results of the analysis is to investigate how the significant Biological Processes are"},
  {"line":5,"text":"distributed over the GO graph. The goplot function shows the subgraph induced by the most significant terms."}]},
 "mark":{"type":"text","font":"Lato","fontSize":12.3,"color":"#231f20","align":"left","baseline":"middle"},
 "encoding":{
  "x":{"datum":0,"type":"quantitative","scale":{"domain":[0,1],"range":[17,952],"nice":false,"zero":false},"axis":null},
  "y":{"field":"line","type":"quantitative","scale":{"domain":[1,6],"range":[693,773],"nice":false,"zero":false},"axis":null},
  "text":{"field":"text"}}},
{"data":{"values":[{"line":1,"text":"Figure 6"},{"line":6,"text":"Abbreviations:"}]},
 "mark":{"type":"text","font":"Lato","fontSize":12.3,"fontWeight":"bold","color":"#231f20","align":"left","baseline":"middle"},
 "encoding":{
  "x":{"datum":0,"type":"quantitative","scale":{"domain":[0,1],"range":[17,952],"nice":false,"zero":false},"axis":null},
  "y":{"field":"line","type":"quantitative","scale":{"domain":[1,6],"range":[693,773],"nice":false,"zero":false},"axis":null},
  "text":{"field":"text"}}},
{"data":{"values":[{"line":1,"text":"GO and KEGG pathway enrichment analyses of turquoise module genes. (A) Dotplot of GO analysis divided into three functional groups: biological processes, cell"}]},
 "mark":{"type":"text","font":"Lato","fontSize":12.3,"color":"#231f20","align":"left","baseline":"middle","dx":50},
 "encoding":{
  "x":{"datum":0,"type":"quantitative","scale":{"domain":[0,1],"range":[17,952],"nice":false,"zero":false},"axis":null},
  "y":{"field":"line","type":"quantitative","scale":{"domain":[1,6],"range":[693,773],"nice":false,"zero":false},"axis":null},
  "text":{"field":"text"}}},
{"data":{"values":[{"line":6,"text":"GO, Gene Ontology; KEGG, Kyoto Encyclopedia of Genes and Genomes."}]},
 "mark":{"type":"text","font":"Lato","fontSize":12.3,"color":"#231f20","align":"left","baseline":"middle","dx":85},
 "encoding":{
  "x":{"datum":0,"type":"quantitative","scale":{"domain":[0,1],"range":[17,952],"nice":false,"zero":false},"axis":null},
  "y":{"field":"line","type":"quantitative","scale":{"domain":[1,6],"range":[693,773],"nice":false,"zero":false},"axis":null},
  "text":{"field":"text"}}}
]
}
